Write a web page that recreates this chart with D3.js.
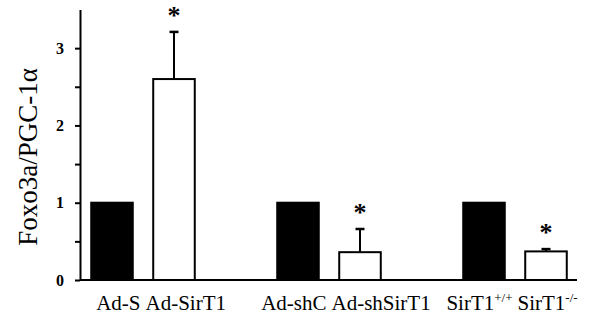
<!DOCTYPE html>
<html lang="en">
<head>
<meta charset="UTF-8">
<title>Foxo3a/PGC-1α</title>
<script src="https://d3js.org/d3.v7.min.js"></script>
<style>
  body { margin: 0; background: #fff; }
  svg text { font-family: "Liberation Serif", "Times New Roman", serif; fill: #000; }
</style>
</head>
<body>
<div id="chart"></div>
<script>
// values
const labels = ["Ad-S", "Ad-SirT1", "Ad-shC", "Ad-shSirT1", "SirT1", "SirT1"];
const labelSup = ["", "", "", "", "+/+", "-/-"];
const values = [1, 2.6, 1, 0.36, 1, 0.37];
const errors = [0, 0.61, 0, 0.3, 0, 0.03];
const starred = [false, true, false, true, false, true];
const yTicks = [0, 0.5, 1, 1.5, 2, 2.5, 3];

const width = 589, height = 320;
const svg = d3.select("#chart").append("svg")
    .attr("width", width).attr("height", height);

// 8 slots, an empty one between each pair of bars
const slotOf = i => i + Math.floor(i / 2);
const x = d3.scaleBand().domain(d3.range(8)).range([81, 577])
    .paddingInner(0.33).paddingOuter(0.165);
const y = d3.scaleLinear().domain([0, 3.5]).range([280, 9.5]);
const cx = i => x(slotOf(i)) + x.bandwidth() / 2;

const data = values.map((v, i) => ({ i, v, e: errors[i], star: starred[i] }));

// bars
svg.selectAll("rect.bar").data(data).enter().append("rect")
    .attr("class", "bar")
    .attr("x", d => x(slotOf(d.i)))
    .attr("y", d => y(d.v))
    .attr("width", x.bandwidth())
    .attr("height", d => y(0) - y(d.v))
    .attr("fill", d => d.i % 2 === 0 ? "#000" : "#fff")
    .attr("stroke", "#000")
    .attr("stroke-width", 2);

// upper error bars
const err = svg.selectAll("g.err").data(data.filter(d => d.e > 0)).enter().append("g")
    .attr("class", "err");
err.append("line")
    .attr("x1", d => cx(d.i)).attr("x2", d => cx(d.i))
    .attr("y1", d => y(d.v)).attr("y2", d => y(d.v + d.e))
    .attr("stroke", "#000").attr("stroke-width", 2);
err.append("line")
    .attr("x1", d => cx(d.i) - 4.5).attr("x2", d => cx(d.i) + 4.5)
    .attr("y1", d => y(d.v + d.e)).attr("y2", d => y(d.v + d.e))
    .attr("stroke", "#000").attr("stroke-width", 2.5);

// significance stars
svg.selectAll("text.star").data(data.filter(d => d.star)).enter().append("text")
    .attr("class", "star")
    .attr("x", d => cx(d.i))
    .attr("y", d => y(d.v + d.e) - 8)
    .attr("text-anchor", "middle")
    .attr("font-size", 26)
    .attr("font-weight", "bold")
    .text("*");

// axes
const xAxis = svg.append("g")
    .attr("transform", "translate(0," + y(0) + ")")
    .call(d3.axisBottom(x).tickValues([]).tickSizeOuter(0));
xAxis.select(".domain").attr("stroke-width", 2).attr("d", "M80,0H577");

const yAxis = svg.append("g")
    .attr("transform", "translate(80,0)")
    .call(d3.axisLeft(y).tickValues(yTicks).tickSize(5).tickSizeOuter(0)
        .tickFormat(d => Number.isInteger(d) ? d : ""));
yAxis.select(".domain").attr("stroke-width", 2);
yAxis.selectAll(".tick line").attr("stroke-width", 2);
yAxis.selectAll(".tick text")
    .attr("x", -16)
    .attr("font-size", 16)
    .attr("font-weight", "bold")
    .attr("font-family", "Liberation Serif, serif");

// category labels: each pair meets at the gap between its two bars
for (let g = 0; g < 3; g++) {
    const a = 2 * g, b = 2 * g + 1;
    const gap = (x(slotOf(a)) + x.bandwidth() + x(slotOf(b))) / 2;
    [[a, "end", gap - 2.5], [b, "start", gap + 2.5]].forEach(([i, anchor, px]) => {
        const t = svg.append("text")
            .attr("x", px).attr("y", 310)
            .attr("text-anchor", anchor)
            .attr("font-size", 21);
        t.append("tspan").text(labels[i]);
        if (labelSup[i]) {
            t.append("tspan").attr("dy", -8).attr("font-size", 13).text(labelSup[i]);
        }
    });
}

// y title
svg.append("text")
    .attr("transform", "translate(37,157) rotate(-90)")
    .attr("text-anchor", "middle")
    .attr("font-size", 27)
    .text("Foxo3a/PGC-1α");
</script>
</body>
</html>
